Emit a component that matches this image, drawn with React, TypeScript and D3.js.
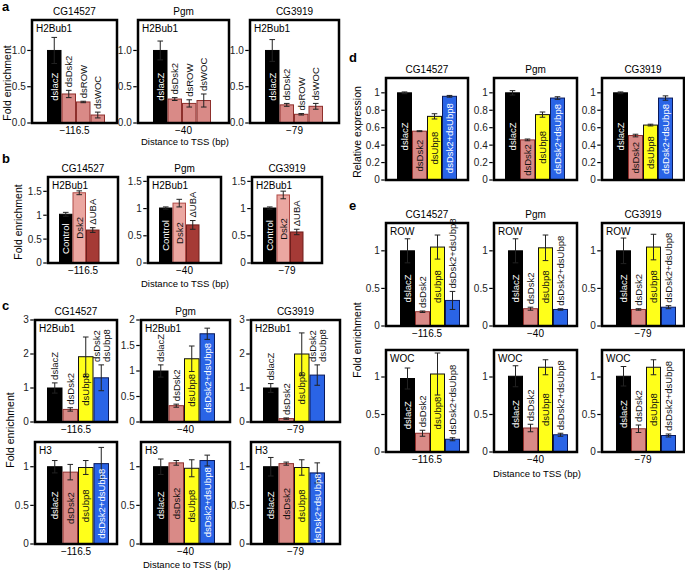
import React from "react";
import * as d3 from "d3";

const FONT = "'Liberation Sans', Arial, Helvetica, sans-serif";

// ---- data ----
const genes = ["CG14527", "Pgm", "CG3919"];
const tssLabels = ["\u2212116.5", "\u221240", "\u221279"];

// panel a
const aCats = ["dslacZ", "dsDsk2", "dsROW", "dsWOC"];
const aMean = [
  [1.0, 0.4, 0.29, 0.11],
  [1.0, 0.33, 0.27, 0.31],
  [1.0, 0.25, 0.12, 0.23],
];
const aErr = [
  [0.18, 0.05, 0.01, 0.04],
  [0.13, 0.02, 0.05, 0.09],
  [0.15, 0.02, 0.01, 0.04],
];
const aInside = [true, false, false, false];
const aTicks = [0, 0.5, 1.0];

// panel b
const bCats = ["Control", "Dsk2", "\u0394UBA"];
const bMean = [
  [1.02, 1.47, 0.69],
  [1.01, 1.1, 0.7],
  [1.01, 1.25, 0.57],
];
const bErr = [
  [0.04, 0.04, 0.05],
  [0.02, 0.07, 0.08],
  [0.02, 0.07, 0.05],
];
const bInside = [true, true, false];
const bTicks = [0, 0.5, 1, 1.5];
const bMax = [1.8, 1.58, 1.58];

// panel c
const cCats = ["dslacZ", "dsDsk2", "dsUbp8", "dsDsk2+dsUbp8"];
const cH2Labels = [
  ["dslacZ", "dsDsk2", "dsUbp8", "dsDsk2\ndsUbp8"],
  ["dslacZ", "dsDsk2", "dsUbp8", "dsDsk2+dsUbp8"],
  ["dslacZ", "dsDsk2", "dsUbp8", "dsDsk2\ndsUbp8"],
];
const cH2Inside = [
  [false, false, true, false],
  [false, false, true, true],
  [false, false, true, false],
];
const cH2Mean = [
  [1.0, 0.37, 1.92, 1.3],
  [1.0, 0.32, 1.24, 1.73],
  [1.0, 0.1, 2.0, 1.38],
];
const cH2Err = [
  [0.15, 0.05, 0.58, 0.38],
  [0.12, 0.03, 0.25, 0.11],
  [0.13, 0.02, 0.62, 0.3],
];
const cH2Max = [3, 2, 3];
const cH2Ticks = [
  [0, 1, 2, 3],
  [0, 0.5, 1, 1.5, 2],
  [0, 1, 2, 3],
];
const cH3Mean = [
  [1.0, 0.93, 0.99, 1.04],
  [1.0, 1.05, 0.98, 1.08],
  [1.0, 1.04, 0.99, 0.92],
];
const cH3Err = [
  [0.08, 0.1, 0.09, 0.21],
  [0.1, 0.03, 0.11, 0.07],
  [0.12, 0.02, 0.1, 0.13],
];
const allInside = [true, true, true, true];
const h3Ticks = [0, 0.5, 1];

// panel d
const dMean = [
  [1.0, 0.56, 0.73, 0.96],
  [1.0, 0.46, 0.75, 0.94],
  [1.0, 0.51, 0.63, 0.94],
];
const dErr = [
  [0.01, 0.005, 0.03, 0.01],
  [0.025, 0.01, 0.03, 0.015],
  [0.01, 0.015, 0.01, 0.025],
];
const dTicks = [0, 0.2, 0.4, 0.6, 0.8, 1];

// panel e
const eInside = [true, false, true, false];
const eRowMean = [
  [1.0, 0.19, 1.05, 0.34],
  [1.0, 0.23, 1.04, 0.22],
  [1.0, 0.22, 1.05, 0.25],
];
const eRowErr = [
  [0.16, 0.01, 0.16, 0.12],
  [0.16, 0.02, 0.17, 0.01],
  [0.17, 0.01, 0.17, 0.02],
];
const eWocMean = [
  [0.98, 0.25, 1.04, 0.17],
  [1.01, 0.32, 1.13, 0.23],
  [1.01, 0.31, 1.13, 0.22],
];
const eWocErr = [
  [0.14, 0.04, 0.28, 0.02],
  [0.14, 0.05, 0.1, 0.02],
  [0.13, 0.05, 0.1, 0.02],
];
const eTicks = [0, 0.5, 1];

// ---- styles ----
const barStyle: Record<string, { fill: string; stroke: string; text: string }> = {
  dslacZ: { fill: "#000", stroke: "#000", text: "#fff" },
  Control: { fill: "#000", stroke: "#000", text: "#fff" },
  dsDsk2: { fill: "#d98a87", stroke: "#8e2f2c", text: "#111" },
  dsROW: { fill: "#d98a87", stroke: "#8e2f2c", text: "#111" },
  dsWOC: { fill: "#d98a87", stroke: "#8e2f2c", text: "#111" },
  Dsk2: { fill: "#eba7a1", stroke: "#b04a46", text: "#111" },
  "\u0394UBA": { fill: "#a53a36", stroke: "#6e1e1c", text: "#fff" },
  dsUbp8: { fill: "#ffff1a", stroke: "#111", text: "#111" },
  "dsDsk2+dsUbp8": { fill: "#2a64e6", stroke: "#0a1a5a", text: "#fff" },
};

// layout of each row of boxes
const leftBoxes: [number, number][] = [[35, 117], [141, 230], [251, 340]];
const rightBoxes: [number, number][] = [[386, 468], [494, 577], [602, 684]];
const rowA = { top: 20, zero: 123, boxes: [[32, 117], [138, 229], [250, 339]] as [number, number][], padL: 15, bw: 14.5 };
const rowB = { top: 177, zero: 263, boxes: [[48, 118], [148, 221], [252, 322]] as [number, number][], padL: 11, bw: 13.5 };
const rowC1 = { top: 320, zero: 422, boxes: leftBoxes, padL: 12, bw: 15.5 };
const rowC2 = { top: 442, zero: 544, boxes: leftBoxes, padL: 12, bw: 15.5 };
const rowD = { top: 78, zero: 180, boxes: rightBoxes, padL: 11, bw: 15 };
const rowE1 = { top: 223, zero: 326, boxes: rightBoxes, padL: 14, bw: 15 };
const rowE2 = { top: 350, zero: 452, boxes: rightBoxes, padL: 14, bw: 15 };

const fmt1 = d3.format(".1f");
const fmtG = d3.format("~g");

// left axis: short ticks sticking out of the box
const YAxis = ({ scale, ticks, fmt, x }: any) => (
  <g>
    {ticks.map((t: number) => (
      <g key={t} transform={`translate(${x},${scale(t)})`}>
        <line x1={0} x2={-3.5} stroke="#000" strokeWidth={1.2} />
        <text x={-5} dy="0.34em" textAnchor="end" fontSize={10} fontFamily={FONT} fill="#222">
          {fmt(t)}
        </text>
      </g>
    ))}
  </g>
);

const BarLabel = ({ text, x, y, anchor, color }: any) => {
  const lines = text.split("\n");
  return (
    <text
      transform={`translate(${x},${y}) rotate(-90)`}
      textAnchor={anchor}
      fontSize={9.5}
      fontFamily={FONT}
      fill={color}
    >
      {lines.length === 1 ? (
        <tspan dy="0.35em">{text}</tspan>
      ) : (
        lines.map((l: string, i: number) => (
          <tspan key={i} x={0} dy={i === 0 ? "-0.18em" : "1.05em"}>
            {l}
          </tspan>
        ))
      )}
    </text>
  );
};

const Panel = ({ row, gi, yMax, cats, labels, inside, means, errs, ticks, fmt, title, tag, showTss = true }: any) => {
  const [x0, x1] = row.boxes[gi];
  const { top, zero, padL, bw } = row;
  const y = d3.scaleLinear().domain([0, yMax]).range([zero, top]);
  const x = d3
    .scaleBand<string>()
    .domain(cats)
    .range([x0 + padL, x0 + padL + bw * cats.length])
    .padding(0);
  const lab = labels || cats;
  return (
    <g>
      {title && (
        <text x={(x0 + x1) / 2} y={top - 5} textAnchor="middle" fontSize={10} fontFamily={FONT}>
          {title}
        </text>
      )}
      {cats.map((c: string, i: number) => {
        const st = barStyle[c];
        return (
          <rect
            key={c}
            x={x(c)! + 0.5}
            y={y(means[i])}
            width={x.bandwidth() - 1}
            height={zero - y(means[i])}
            fill={st.fill}
            stroke={st.stroke}
            strokeWidth={1}
          />
        );
      })}
      {cats.map((c: string, i: number) => {
        const cx = x(c)! + x.bandwidth() / 2;
        const lo = y(Math.max(0, means[i] - errs[i]));
        const hi = y(means[i] + errs[i]);
        return (
          <g key={c} stroke="#222" strokeWidth={1}>
            <line x1={cx} x2={cx} y1={lo} y2={hi} />
            <line x1={cx - 2.8} x2={cx + 2.8} y1={hi} y2={hi} />
            <line x1={cx - 2.8} x2={cx + 2.8} y1={lo} y2={lo} />
          </g>
        );
      })}
      {cats.map((c: string, i: number) => {
        const cx = x(c)! + x.bandwidth() / 2;
        if (inside[i]) {
          return (
            <BarLabel
              key={c}
              text={lab[i]}
              x={cx}
              y={(y(means[i]) + zero) / 2}
              anchor="middle"
              color={barStyle[c].text}
            />
          );
        }
        return (
          <BarLabel key={c} text={lab[i]} x={cx} y={y(means[i] + errs[i]) - 3} anchor="start" color="#111" />
        );
      })}
      <rect x={x0} y={top} width={x1 - x0} height={zero - top} fill="none" stroke="#000" strokeWidth={2.5} />
      <YAxis scale={y} ticks={ticks} fmt={fmt} x={x0 - 1.25} />
      {tag && (
        <text x={x0 + 4} y={top + 12} fontSize={10} fontFamily={FONT}>
          {tag}
        </text>
      )}
      {showTss && (
        <text x={(x0 + x1) / 2} y={zero + 11} textAnchor="middle" fontSize={10} fontFamily={FONT}>
          {tssLabels[gi]}
        </text>
      )}
    </g>
  );
};

const Letter = ({ x, y, t }: any) => (
  <text x={x} y={y} fontSize={13} fontWeight="bold" fontFamily={FONT}>
    {t}
  </text>
);

const VLabel = ({ x, y, t }: any) => (
  <text transform={`translate(${x},${y}) rotate(-90)`} textAnchor="middle" fontSize={10.5} fontFamily={FONT}>
    {t}
  </text>
);

const HLabel = ({ x, y, t }: any) => (
  <text x={x} y={y} textAnchor="middle" fontSize={9.5} fontFamily={FONT}>
    {t}
  </text>
);

export default function App() {
  return (
    <svg
      width={685}
      height={572}
      style={{ position: "absolute", left: 0, top: 0, background: "#fff" }}
    >
      <rect width={685} height={572} fill="#fff" />
      {/* a */}
      <Letter x={2} y={11} t="a" />
      <VLabel x={11} y={83} t="Fold enrichment" />
      {genes.map((g, gi) => (
        <Panel key={g} row={rowA} gi={gi} yMax={1.42} cats={aCats} inside={aInside}
          means={aMean[gi]} errs={aErr[gi]} ticks={aTicks} fmt={fmt1} title={g} tag="H2Bub1" />
      ))}
      <HLabel x={185} y={145} t="Distance to TSS (bp)" />

      {/* b */}
      <Letter x={2} y={163} t="b" />
      <VLabel x={22} y={222} t="Fold enrichment" />
      {genes.map((g, gi) => (
        <Panel key={g} row={rowB} gi={gi} yMax={bMax[gi]} cats={bCats} inside={bInside}
          means={bMean[gi]} errs={bErr[gi]} ticks={bTicks} fmt={fmtG} title={g} tag="H2Bub1" />
      ))}
      <HLabel x={185} y={287} t="Distance to TSS (bp)" />

      {/* c */}
      <Letter x={2} y={310} t="c" />
      <VLabel x={14} y={430} t="Fold enrichment" />
      {genes.map((g, gi) => (
        <Panel key={g} row={rowC1} gi={gi} yMax={cH2Max[gi]} cats={cCats} labels={cH2Labels[gi]}
          inside={cH2Inside[gi]} means={cH2Mean[gi]} errs={cH2Err[gi]} ticks={cH2Ticks[gi]} fmt={fmtG}
          title={g} tag="H2Bub1" />
      ))}
      {genes.map((g, gi) => (
        <Panel key={g} row={rowC2} gi={gi} yMax={1.32} cats={cCats} inside={allInside}
          means={cH3Mean[gi]} errs={cH3Err[gi]} ticks={h3Ticks} fmt={fmtG} tag="H3" />
      ))}
      <HLabel x={187} y={568} t="Distance to TSS (bp)" />

      {/* d */}
      <Letter x={349} y={62} t="d" />
      <VLabel x={361} y={132} t="Relative expression" />
      {genes.map((g, gi) => (
        <Panel key={g} row={rowD} gi={gi} yMax={1.17} cats={cCats} inside={allInside}
          means={dMean[gi]} errs={dErr[gi]} ticks={dTicks} fmt={fmtG} title={g} showTss={false} />
      ))}

      {/* e */}
      <Letter x={349} y={210} t="e" />
      <VLabel x={361} y={340} t="Fold enrichment" />
      {genes.map((g, gi) => (
        <Panel key={g} row={rowE1} gi={gi} yMax={1.37} cats={cCats} inside={eInside}
          means={eRowMean[gi]} errs={eRowErr[gi]} ticks={eTicks} fmt={fmtG} title={g} tag="ROW" />
      ))}
      {genes.map((g, gi) => (
        <Panel key={g} row={rowE2} gi={gi} yMax={1.36} cats={cCats} inside={eInside}
          means={eWocMean[gi]} errs={eWocErr[gi]} ticks={eTicks} fmt={fmtG} tag="WOC" />
      ))}
      <HLabel x={537} y={477} t="Distance to TSS (bp)" />
    </svg>
  );
}
